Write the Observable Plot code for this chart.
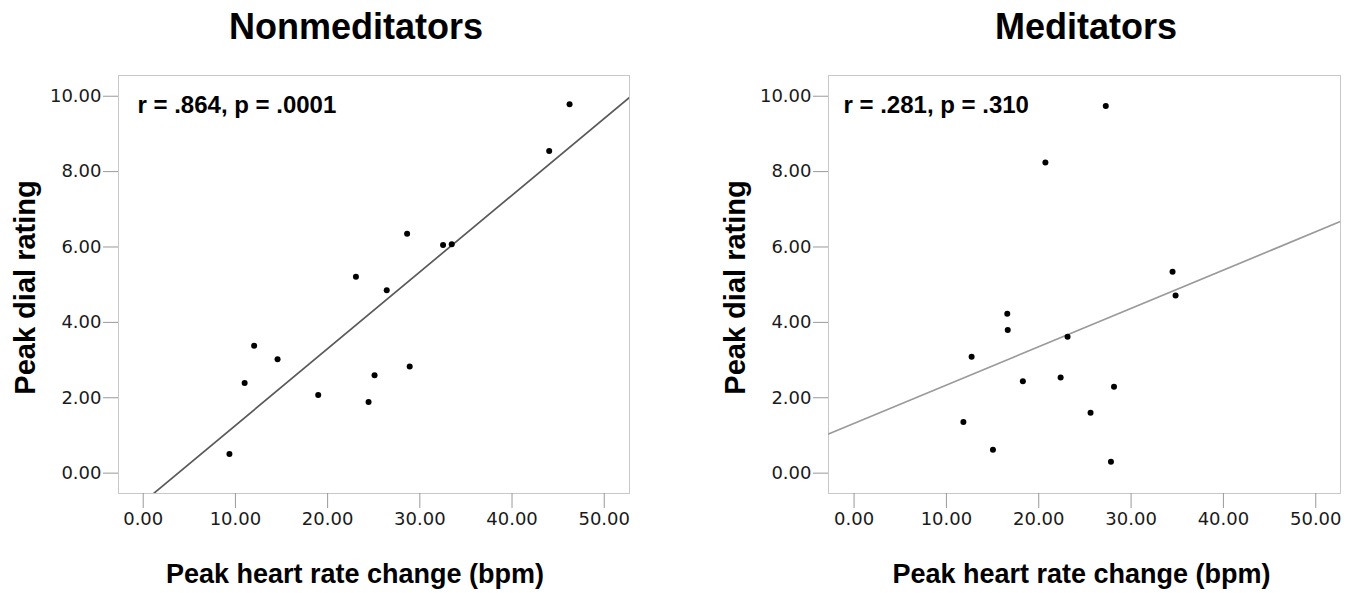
<!DOCTYPE html>
<html>
<head>
<meta charset="utf-8">
<script src="https://cdn.jsdelivr.net/npm/d3@7"></script>
<script src="https://cdn.jsdelivr.net/npm/@observablehq/plot@0.6"></script>
<style>
  html, body { margin: 0; padding: 0; background: #fff; }
  #root { position: relative; width: 1360px; height: 593px; overflow: hidden; background: #fff; }
  .title { position: absolute; top: 9px; font-family: "Liberation Sans", Arial, sans-serif; font-weight: bold; font-size: 36px; line-height: 36px; color: #000; white-space: nowrap; transform: translateX(-50%); }
  .panel { position: absolute; top: 55px; width: 680px; height: 538px; }
</style>
</head>
<body>
<div id="root"></div>
<script>
// Data
const panelTitles = ["Nonmeditators", "Meditators"];
const annotations = ["r = .864, p = .0001", "r = .281, p = .310"];
const xLabel = "Peak heart rate change (bpm)";
const yLabel = "Peak dial rating";

const nonmedHR = [9.35, 11.0, 12.03, 14.57, 18.98, 23.07, 24.44, 25.09, 26.41, 28.62, 28.90, 32.52, 33.46, 44.03, 46.24];
const nonmedDial = [0.51, 2.39, 3.38, 3.02, 2.07, 5.21, 1.89, 2.60, 4.85, 6.35, 2.83, 6.05, 6.07, 8.55, 9.79];

const medHR = [11.84, 12.73, 15.04, 16.59, 16.64, 18.28, 20.72, 22.37, 23.12, 25.61, 27.26, 27.82, 28.15, 34.49, 34.82];
const medDial = [1.36, 3.09, 0.62, 4.23, 3.80, 2.44, 8.24, 2.54, 3.62, 1.60, 9.74, 0.30, 2.29, 5.34, 4.71];

const xTicks = [0, 10, 20, 30, 40, 50];
const yTicks = [0, 2, 4, 6, 8, 10];

const root = document.getElementById("root");
const fmt = d3.format(".2f");
const boldFont = "Liberation Sans, Arial, sans-serif";
const tickFont = "DejaVu Sans, Verdana, sans-serif";

function fit(xs, ys) {
  const mx = d3.mean(xs), my = d3.mean(ys);
  let sxy = 0, sxx = 0;
  xs.forEach((x, i) => { sxy += (x - mx) * (ys[i] - my); sxx += (x - mx) * (x - mx); });
  const b = sxy / sxx;
  return {a: my - b * mx, b};
}

function panel({xs, ys, annotation, lineColor, marginLeft, marginRight, xDomain, annDx, xLabDx}) {
  const data = xs.map((x, i) => ({x, y: ys[i]}));
  const {a, b} = fit(xs, ys);
  const fitPts = xDomain.map(x => ({x, y: a + b * x}));
  const yDomain = [-0.54, 10.55];
  return Plot.plot({
    width: 680,
    height: 538,
    marginTop: 20,
    marginBottom: 100,
    marginLeft,
    marginRight,
    style: {fontFamily: tickFont, fontSize: "18px", color: "#222", background: "white"},
    x: {domain: xDomain},
    y: {domain: yDomain},
    marks: [
      Plot.frame({stroke: "#c8c8c8", strokeWidth: 1}),
      Plot.axisX({ticks: xTicks, tickFormat: fmt, tickSize: 15, tickPadding: 4, stroke: "#999", fill: "#1a1a1a", fontSize: 18, fontFamily: tickFont, label: null}),
      Plot.axisY({ticks: yTicks, tickFormat: fmt, tickSize: 15, tickPadding: 2, stroke: "#999", fill: "#1a1a1a", fontSize: 18, fontFamily: tickFont, label: null}),
      Plot.line(fitPts, {x: "x", y: "y", stroke: lineColor, strokeWidth: 1.7, clip: true}),
      Plot.dot(data, {x: "x", y: "y", r: 3, fill: "#000", stroke: "none"}),
      Plot.text([annotation], {text: d => d, frameAnchor: "top-left", dx: annDx, dy: 30, textAnchor: "start", lineAnchor: "middle", fontSize: 24, fontWeight: "bold", fontFamily: boldFont, fill: "#000"}),
      Plot.text([xLabel], {text: d => d, frameAnchor: "bottom", dx: xLabDx, dy: 81, textAnchor: "middle", lineAnchor: "middle", fontSize: 27, fontWeight: "bold", fontFamily: boldFont, fill: "#000"}),
      Plot.text([yLabel], {text: d => d, frameAnchor: "left", dx: -93, dy: 3, rotate: -90, textAnchor: "middle", lineAnchor: "middle", fontSize: 29, fontWeight: "bold", fontFamily: boldFont, fill: "#000"})
    ]
  });
}

const configs = [
  {xs: nonmedHR, ys: nonmedDial, annotation: annotations[0], lineColor: "#5a5a5a", marginLeft: 118, marginRight: 51, xDomain: [-2.68, 52.74], annDx: 19, xLabDx: -19, left: 0, titleX: 356},
  {xs: medHR, ys: medDial, annotation: annotations[1], lineColor: "#9a9a9a", marginLeft: 148, marginRight: 20, xDomain: [-2.77, 52.68], annDx: 15, xLabDx: -3, left: 680, titleX: 1086}
];

configs.forEach((c, i) => {
  const t = document.createElement("div");
  t.className = "title";
  t.style.left = c.titleX + "px";
  t.textContent = panelTitles[i];
  root.appendChild(t);
  const p = document.createElement("div");
  p.className = "panel";
  p.style.left = c.left + "px";
  p.appendChild(panel(c));
  root.appendChild(p);
});
</script>
</body>
</html>
